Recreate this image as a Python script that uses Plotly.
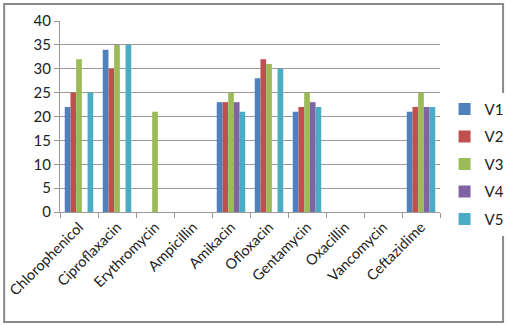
import plotly.graph_objects as go

categories = ["Chlorophenicol", "Ciproflaxacin", "Erythromycin", "Ampicillin", "Amikacin",
              "Ofloxacin", "Gentamycin", "Oxacillin", "Vancomycin", "Ceftazidime"]
V1 = [22, 34, 0, 0, 23, 28, 21, 0, 0, 21]
V2 = [25, 30, 0, 0, 23, 32, 22, 0, 0, 22]
V3 = [32, 35, 21, 0, 25, 31, 25, 0, 0, 25]
V4 = [0, 0, 0, 0, 23, 0, 23, 0, 0, 22]
V5 = [25, 35, 0, 0, 21, 30, 22, 0, 0, 22]
series_names = ["V1", "V2", "V3", "V4", "V5"]
colors = ["#4F81BD", "#C0504D", "#9BBB59", "#8064A2", "#4BACC6"]

fig = go.Figure()
for name, vals, c in zip(series_names, [V1, V2, V3, V4, V5], colors):
    fig.add_trace(go.Bar(x=categories, y=vals, name=name, marker_color=c,
                         marker_line_width=0, legendgroup=name))

font = "Lato, Carlito, 'Open Sans', sans-serif"
fig.update_layout(
    width=507, height=326,
    margin=dict(l=60, r=67, t=21, b=114, autoexpand=False),
    paper_bgcolor="white", plot_bgcolor="white",
    barmode="group", bargap=0.25, bargroupgap=0,
    font=dict(family=font, size=14, color="#222"),
    legend=dict(x=1.012, y=0.25, xanchor="left", yanchor="middle",
                font=dict(size=15), tracegroupgap=5, itemwidth=30),
    showlegend=True,
)
fig.update_xaxes(tickangle=-45, tickson="boundaries", ticks="outside", ticklen=5,
                 tickcolor="#999", showline=True, linecolor="#999", linewidth=1,
                 tickfont=dict(size=14.5), showgrid=False, automargin=False)
fig.update_yaxes(range=[0, 40], dtick=5, ticks="outside", ticklen=5, tickcolor="#999",
                 showline=True, linecolor="#999", linewidth=1,
                 showgrid=True, gridcolor="#999", gridwidth=1, zeroline=False,
                 tickfont=dict(size=15), automargin=False)
fig.add_shape(type="rect", xref="paper", yref="paper",
              x0=-0.147, x1=1.166, y0=-0.576, y1=1.089,
              line=dict(color="#8a8a8a", width=2), fillcolor="rgba(0,0,0,0)")
fig.write_html("out.html")
